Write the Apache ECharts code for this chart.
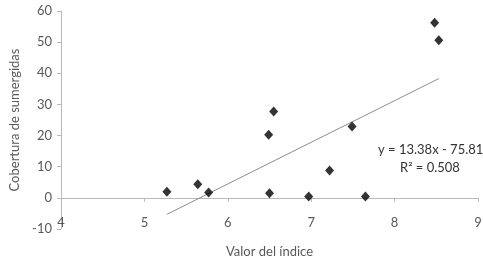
<!DOCTYPE html>
<html lang="es">
<head>
    <meta charset="UTF-8">
    <title>Cobertura de sumergidas</title>
    <script src="https://cdn.jsdelivr.net/npm/echarts@6/dist/echarts.min.js"></script>
    <style>
        html, body { margin: 0; padding: 0; background: #fff; }
        #main { width: 483px; height: 262px; }
    </style>
</head>
<body>
<div id="main"></div>
<script>
    // datos
    var indice = [8.48, 8.53, 6.55, 7.49, 6.49, 7.22, 5.27, 5.64, 5.77, 6.50, 6.97, 7.65];
    var cobertura = [56.2, 50.6, 27.7, 22.9, 20.3, 8.8, 2.0, 4.4, 1.7, 1.5, 0.4, 0.4];
    // linea de tendencia (extremos)
    var trendX = [5.27, 8.53];
    var trendY = [-5.3, 38.3];
    var ecuacion = ['y = 13.38x - 75.81', 'R² = 0.508'];

    var puntos = indice.map(function (x, i) { return [x, cobertura[i]]; });
    var tendencia = trendX.map(function (x, i) { return [x, trendY[i]]; });

    var fuente = 'Lato';
    var gris = '#b9b9b9';
    var texto = '#595959';

    var myChart = echarts.init(document.getElementById('main'));
    var option = {
        animation: false,
        grid: { left: 61, right: 5, top: 11, bottom: 33, containLabel: false, outerBoundsMode: 'none' },
        xAxis: {
            type: 'value',
            min: 4, max: 9, interval: 1,
            name: 'Valor del índice',
            nameLocation: 'middle',
            nameGap: 16,
            nameTextStyle: { fontFamily: fuente, fontSize: 13, color: texto },
            axisLine: { onZero: true, lineStyle: { color: gris } },
            axisTick: { show: true, inside: false, length: 4, lineStyle: { color: gris } },
            axisLabel: { margin: -13, fontFamily: fuente, fontSize: 13, color: texto },
            splitLine: { show: false }
        },
        yAxis: {
            type: 'value',
            min: -10, max: 60, interval: 10,
            name: 'Cobertura de sumergidas',
            nameLocation: 'middle',
            nameGap: 40,
            nameTextStyle: { fontFamily: fuente, fontSize: 13, color: texto },
            axisLine: { show: true, onZero: false, lineStyle: { color: gris } },
            axisTick: { show: true, length: 4, lineStyle: { color: gris } },
            axisLabel: { margin: 9, fontFamily: fuente, fontSize: 13, color: texto },
            splitLine: { show: false }
        },
        series: [
            {
                type: 'line',
                data: tendencia,
                symbol: 'none',
                lineStyle: { color: '#8c8c8c', width: 1 },
                z: 1
            },
            {
                type: 'scatter',
                data: puntos,
                symbol: 'diamond',
                symbolSize: [9, 10],
                itemStyle: { color: '#000' },
                z: 2
            }
        ],
        graphic: [
            {
                type: 'text', left: 378, top: 143,
                style: { text: ecuacion[0], font: '13px Lato', fill: '#333' }
            },
            {
                type: 'text', left: 400, top: 161,
                style: { text: ecuacion[1], font: '13px Lato', fill: '#333' }
            }
        ]
    };
    myChart.setOption(option);
</script>
</body>
</html>
